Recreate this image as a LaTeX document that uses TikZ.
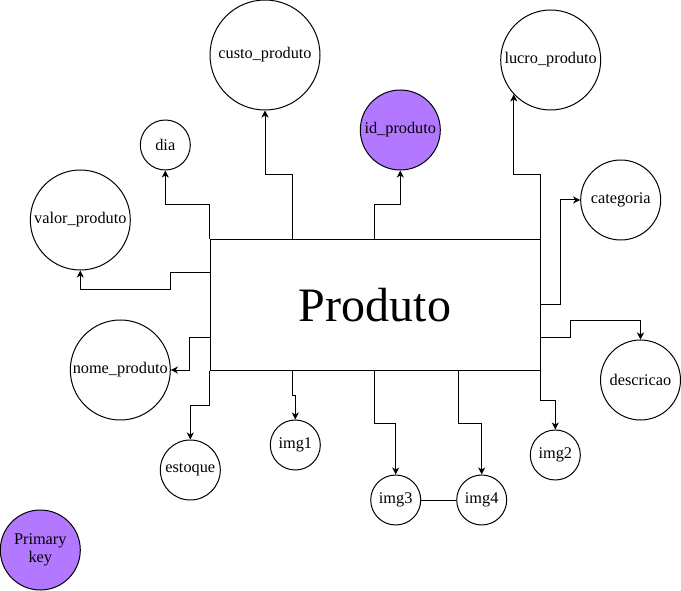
\documentclass[tikz,border=0pt]{standalone}
\usepackage{fontspec}
\setmainfont{Liberation Serif}
\usetikzlibrary{arrows.meta}
\definecolor{pkpurple}{RGB}{178,120,255}
\begin{document}
\begin{tikzpicture}[x=1pt,y=-1pt,
  attr/.style={draw, circle, line width=1pt, inner sep=0pt, minimum size=#1, font=\fontsize{16.3}{18}\selectfont, align=center},
  keyattr/.style={attr=#1, fill=pkpurple},
  entity/.style={draw, rectangle, line width=1pt, minimum width=330pt, minimum height=130pt, inner sep=0pt, font=\fontsize{48}{52}\selectfont},
  arr/.style={line width=1pt, -{Stealth[length=7pt,width=7pt,inset=2pt]}},
  plain/.style={line width=1pt}]
\useasboundingbox (0,0) rectangle (681,591);
\node[entity] (prod) at (375,305) {Produto};
\node[attr=110pt] (custo) at (265,55) {custo\_produto};
\node[attr=100pt] (lucro) at (550.7,60) {lucro\_produto};
\node[keyattr=80pt] (idp) at (400.3,130) {id\_produto};
\node[attr=50pt] (dia) at (165.3,145) {dia};
\node[attr=80pt] (cat) at (620.7,200) {categoria};
\node[attr=100pt] (valor) at (80.3,220) {valor\_produto};
\node[attr=100pt] (nome) at (120.3,370) {nome\_produto};
\node[attr=80pt] (desc) at (640.5,380) {descricao};
\node[attr=60pt] (est) at (190.3,470) {estoque};
\node[attr=50pt] (img1) at (295.3,445) {img1};
\node[attr=50pt] (img3) at (395.7,500) {img3};
\node[attr=50pt] (img4) at (481.7,500) {img4};
\node[attr=50pt] (img2) at (555.3,455) {img2};
\node[keyattr=80pt] (pk) at (40.3,550) {Primary\\key};
% connectors
\draw[arr] ([xshift=83pt]prod.north west) -- ++(0,-65) -| (custo);
\draw[arr] (prod.north west) -- ++(0,-35) -| (dia);
\draw[arr] ([yshift=-33pt]prod.north west) -- ++(-39.3,0) -- ++(0,17) -| (valor);
\draw[arr] ([xshift=165pt]prod.north west) -- ++(0,-35) -| (idp);
\draw[arr] (prod.north east) -- ++(0,-65) -| (lucro.223);
\draw[arr] ([yshift=-65pt]prod.north east) -- ++(20,0) |- (cat);
\draw[arr] ([yshift=-98pt]prod.north east) -- ++(30,0) -- ++(0,-17) -| (desc);
\draw[arr] (prod.south east) -- ++(0,30) -| (img2);
\draw[arr] ([xshift=-82.3pt]prod.south east) -- ++(0,52.7) -| (img4);
\draw[arr] ([xshift=165pt]prod.south west) -- ++(0,52.7) -| (img3);
\draw[arr] ([xshift=83pt]prod.south west) -- ++(0,25) -| (img1);
\draw[arr] (prod.south west) -- ++(0,35) -| (est);
\draw[arr] ([yshift=-98pt]prod.north west) -- ++(-20,0) |- (nome);
\draw[plain] (img3) -- (img4);
\end{tikzpicture}
\end{document}
